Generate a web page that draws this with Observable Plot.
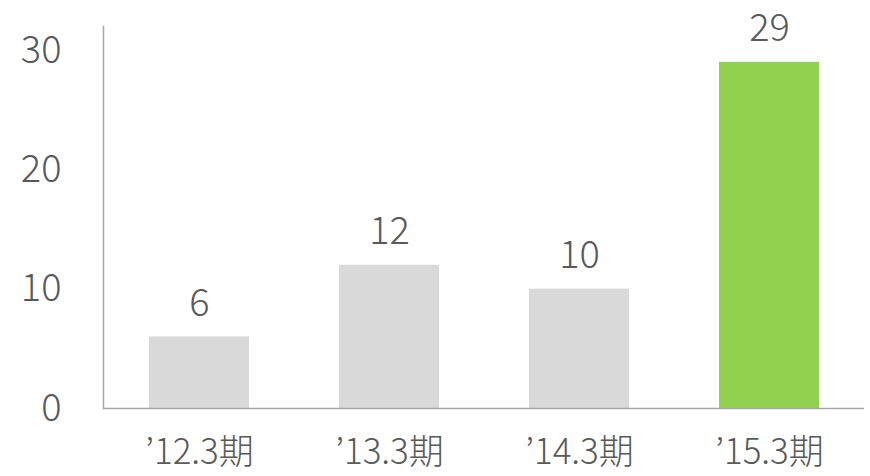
<!DOCTYPE html>
<html>
<head>
<meta charset="utf-8">
<script src="https://cdn.jsdelivr.net/npm/d3@7"></script>
<script src="https://cdn.jsdelivr.net/npm/@observablehq/plot@0.6"></script>
<style>
  html, body { margin: 0; padding: 0; background: #ffffff; }
</style>
</head>
<body>
<div id="chart"></div>
<script>
const categories = ["’12.3期", "’13.3期", "’14.3期", "’15.3期"];
const values = [6, 12, 10, 29];
const barColors = ["#d9d9d9", "#d9d9d9", "#d9d9d9", "#92d050"];
const yTicks = [0, 10, 20, 30];

const data = categories.map((c, i) => ({cat: c, value: values[i], color: barColors[i]}));

const chart = Plot.plot({
  width: 870,
  height: 476,
  marginLeft: 103,
  marginRight: 6,
  marginTop: 26,
  marginBottom: 68,
  style: {fontFamily: "'Noto Sans CJK JP Light', 'Noto Sans CJK JP', sans-serif", color: "#595959", background: "#ffffff"},
  x: {domain: categories, paddingInner: 0.474, paddingOuter: 0.237, label: null},
  y: {domain: [0, 32], label: null},
  marks: [
    Plot.barY(data, {x: "cat", y: "value", fill: "color"}),
    Plot.frame({anchor: "left", stroke: "#a6a6a6", strokeWidth: 1.5}),
    Plot.ruleY([0], {stroke: "#a6a6a6", strokeWidth: 1.5}),
    Plot.axisY({ticks: yTicks, tickSize: 0, tickPadding: 42, fontSize: 38, fill: "#595959", fontWeight: 300, label: null}),
    Plot.axisX({tickSize: 0, tickPadding: 31, fontSize: 35, fill: "#595959", fontWeight: 300, label: null}),
    Plot.text(data, {x: "cat", y: "value", text: d => String(d.value), dy: -21, lineAnchor: "bottom", fontSize: 38, fill: "#595959", fontWeight: 300})
  ]
});
document.getElementById("chart").appendChild(chart);
</script>
</body>
</html>
